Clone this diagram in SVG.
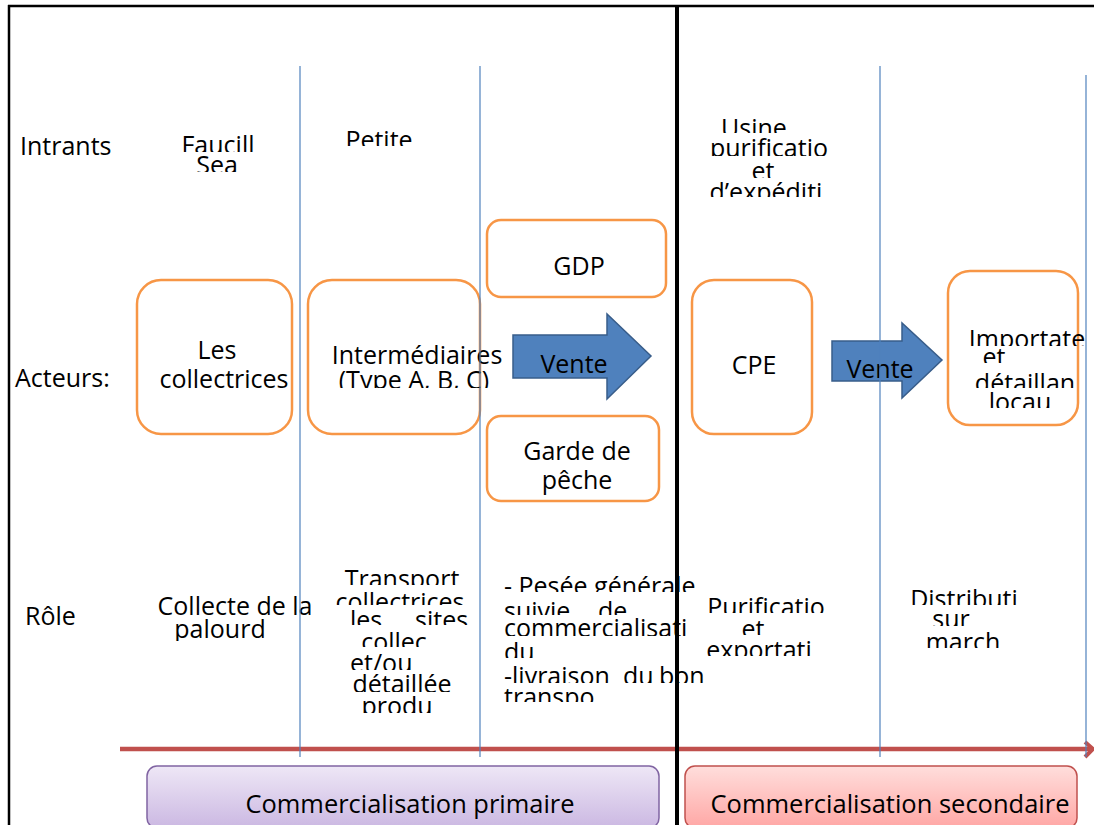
<svg xmlns="http://www.w3.org/2000/svg" width="1094" height="825" viewBox="0 0 1094 825">
<style>
.t{font-family:"Open Sans","Liberation Sans",sans-serif;font-size:25px;fill:#000}
.m{text-anchor:middle}
.box{fill:#fff;stroke:#F79646;stroke-width:2.5}
.vl{stroke:#4F81BD;stroke-width:1.2;fill:none}
.blk{fill:#4F81BD;stroke:#385D8A;stroke-width:1.5}
</style>
<defs>
<linearGradient id="gP" x1="0" y1="0" x2="0" y2="1"><stop offset="0" stop-color="#EEE7F6"/><stop offset="1" stop-color="#CBB8E2"/></linearGradient>
<linearGradient id="gR" x1="0" y1="0" x2="0" y2="1"><stop offset="0" stop-color="#FFDEDC"/><stop offset="1" stop-color="#FFA7A5"/></linearGradient>
<clipPath id="k133"><rect x="0" y="0" width="1094" height="133"/></clipPath>
<clipPath id="k146"><rect x="0" y="0" width="1094" height="146"/></clipPath>
<clipPath id="k152"><rect x="0" y="0" width="1094" height="152"/></clipPath>
<clipPath id="k156"><rect x="0" y="0" width="1094" height="156"/></clipPath>
<clipPath id="k172"><rect x="0" y="0" width="1094" height="172"/></clipPath>
<clipPath id="k178"><rect x="0" y="0" width="1094" height="178"/></clipPath>
<clipPath id="k197"><rect x="0" y="0" width="1094" height="197"/></clipPath>
<clipPath id="k346"><rect x="0" y="0" width="1094" height="346"/></clipPath>
<clipPath id="k363"><rect x="0" y="0" width="1094" height="363"/></clipPath>
<clipPath id="k388"><rect x="0" y="0" width="1094" height="388"/></clipPath>
<clipPath id="k408"><rect x="0" y="0" width="1094" height="408"/></clipPath>
<clipPath id="k585"><rect x="0" y="0" width="1094" height="585"/></clipPath>
<clipPath id="k592"><rect x="0" y="0" width="1094" height="592"/></clipPath>
<clipPath id="k605"><rect x="0" y="0" width="1094" height="605"/></clipPath>
<clipPath id="k613"><rect x="0" y="0" width="1094" height="613"/></clipPath>
<clipPath id="k615"><rect x="0" y="0" width="1094" height="615"/></clipPath>
<clipPath id="k625"><rect x="0" y="0" width="1094" height="625"/></clipPath>
<clipPath id="k626"><rect x="0" y="0" width="1094" height="626"/></clipPath>
<clipPath id="k635"><rect x="0" y="0" width="1094" height="635"/></clipPath>
<clipPath id="k636"><rect x="0" y="0" width="1094" height="636"/></clipPath>
<clipPath id="k641"><rect x="0" y="0" width="1094" height="641"/></clipPath>
<clipPath id="k647"><rect x="0" y="0" width="1094" height="647"/></clipPath>
<clipPath id="k648"><rect x="0" y="0" width="1094" height="648"/></clipPath>
<clipPath id="k656"><rect x="0" y="0" width="1094" height="656"/></clipPath>
<clipPath id="k658"><rect x="0" y="0" width="1094" height="658"/></clipPath>
<clipPath id="k670"><rect x="0" y="0" width="1094" height="670"/></clipPath>
<clipPath id="k683"><rect x="0" y="0" width="1094" height="683"/></clipPath>
<clipPath id="k692"><rect x="0" y="0" width="1094" height="692"/></clipPath>
<clipPath id="k702"><rect x="0" y="0" width="1094" height="702"/></clipPath>
<clipPath id="k713"><rect x="0" y="0" width="1094" height="713"/></clipPath>
</defs>
<rect x="0" y="0" width="1094" height="825" fill="#fff"/>

<g id="row-labels">
<text class="t" x="20" y="155">Intrants</text>
<text class="t" x="15" y="387">Acteurs:</text>
<text class="t" x="25" y="625">Rôle</text>
</g>

<g id="intrants">
<text class="t m" x="218" y="154" clip-path="url(#k152)">Faucill</text>
<text class="t m" x="217" y="174" clip-path="url(#k172)">Sea</text>
<text class="t m" x="379" y="149" clip-path="url(#k146)">Petite</text>
<text class="t m" x="754" y="137" clip-path="url(#k133)">Usine</text>
<text class="t m" x="769" y="157" clip-path="url(#k156)">purificatio</text>
<text class="t m" x="763" y="180" clip-path="url(#k178)">et</text>
<text class="t m" x="766" y="201" clip-path="url(#k197)">d’expéditi</text>
</g>

<g id="connectors">
<path class="blk" d="M513,335 H607 V314 L651,356 L607,399 V378 H513 Z"/>
<text class="t m" x="574" y="373">Vente</text>
<path class="blk" d="M832,341 H902 V323 L942,360 L902,398 V381 H832 Z"/>
<text class="t m" x="880" y="378">Vente</text>
<line x1="120" y1="749" x2="1090" y2="749" stroke="#C0504D" stroke-width="4.5"/>
<polyline points="1085,742 1093,749 1085,757" fill="none" stroke="#C0504D" stroke-width="4"/>
</g>

<g id="collectrices">
<rect class="box" x="137" y="280" width="155" height="154" rx="24"/>
<text class="t m" x="217" y="359">Les</text>
<text class="t m" x="224" y="388">collectrices</text>
</g>

<g id="intermediaires">
<rect class="box" x="308" y="280" width="172" height="154" rx="24"/>
<text class="t m" x="417" y="364">Intermédiaires</text>
<text class="t m" x="414" y="389" clip-path="url(#k388)">(Type A, B, C)</text>
</g>

<g id="gdp">
<rect class="box" x="487" y="220" width="179" height="77" rx="14"/>
<text class="t m" x="579" y="275">GDP</text>
</g>

<g id="garde">
<rect class="box" x="487" y="416" width="172" height="85" rx="14"/>
<text class="t m" x="577" y="460">Garde de</text>
<text class="t m" x="577" y="489">pêche</text>
</g>

<g id="cpe">
<rect class="box" x="692" y="280" width="120" height="154" rx="22"/>
<text class="t m" x="754" y="374">CPE</text>
</g>

<g id="importateurs">
<rect class="box" x="948" y="271" width="130" height="154" rx="22"/>
<text class="t m" x="1027" y="348" clip-path="url(#k346)">Importate</text>
<text class="t m" x="994" y="366" clip-path="url(#k363)">et</text>
<text class="t m" x="1025" y="392" clip-path="url(#k388)">détaillan</text>
<text class="t m" x="1020" y="411" clip-path="url(#k408)">locau</text>
</g>

<g id="roles">
<text class="t m" x="235" y="615">Collecte de la</text>
<text class="t m" x="220" y="638" clip-path="url(#k641)">palourd</text>

<text class="t m" x="402" y="588" clip-path="url(#k585)">Transport</text>
<text class="t m" x="400" y="611" clip-path="url(#k605)">collectrices</text>
<text class="t" y="629" clip-path="url(#k625)"><tspan x="350">les</tspan><tspan x="415">sites</tspan></text>
<text class="t m" x="394" y="651" clip-path="url(#k647)">collec</text>
<text class="t" x="350" y="672" clip-path="url(#k670)">et/ou</text>
<text class="t m" x="402" y="693" clip-path="url(#k692)">détaillée</text>
<text class="t m" x="397" y="715" clip-path="url(#k713)">produ</text>

<text class="t" x="504" y="595" clip-path="url(#k592)">- Pesée générale</text>
<text class="t" y="620" clip-path="url(#k615)"><tspan x="504">suivie</tspan><tspan x="598">de</tspan></text>
<text class="t" x="504" y="637" clip-path="url(#k636)">commercialisati</text>
<text class="t" x="504" y="661" clip-path="url(#k658)">du</text>
<text class="t" y="685" clip-path="url(#k683)"><tspan x="504">-livraison</tspan><tspan x="623">du</tspan><tspan x="659">bon</tspan></text>
<text class="t" x="504" y="706" clip-path="url(#k702)">transpo</text>

<text class="t m" x="766" y="616" clip-path="url(#k613)">Purificatio</text>
<text class="t m" x="753" y="638" clip-path="url(#k635)">et</text>
<text class="t m" x="759" y="659" clip-path="url(#k656)">exportati</text>

<text class="t m" x="964" y="608" clip-path="url(#k605)">Distributi</text>
<text class="t m" x="951" y="628" clip-path="url(#k626)">sur</text>
<text class="t m" x="963" y="651" clip-path="url(#k648)">march</text>
</g>

<g id="grid">
<line class="vl" x1="300" y1="66" x2="300" y2="757"/>
<line class="vl" x1="480" y1="66" x2="480" y2="757"/>
<line class="vl" x1="880" y1="66" x2="880" y2="757"/>
<line class="vl" x1="1086" y1="75" x2="1086" y2="757"/>
<line x1="8" y1="6" x2="1094" y2="6" stroke="#000" stroke-width="2.5"/>
<line x1="9" y1="5" x2="9" y2="825" stroke="#000" stroke-width="2.5"/>
<line x1="677" y1="5" x2="677" y2="825" stroke="#000" stroke-width="4"/>
</g>

<g id="primaire">
<rect x="147" y="766" width="512" height="62" rx="10" fill="url(#gP)" stroke="#8064A2" stroke-width="1.5"/>
<text class="t m" x="410" y="813" textLength="329" lengthAdjust="spacingAndGlyphs">Commercialisation primaire</text>
</g>

<g id="secondaire">
<rect x="685" y="766" width="392" height="62" rx="10" fill="url(#gR)" stroke="#C0504D" stroke-width="1.5"/>
<text class="t m" x="890" y="813" textLength="359" lengthAdjust="spacingAndGlyphs">Commercialisation secondaire</text>
</g>
</svg>
